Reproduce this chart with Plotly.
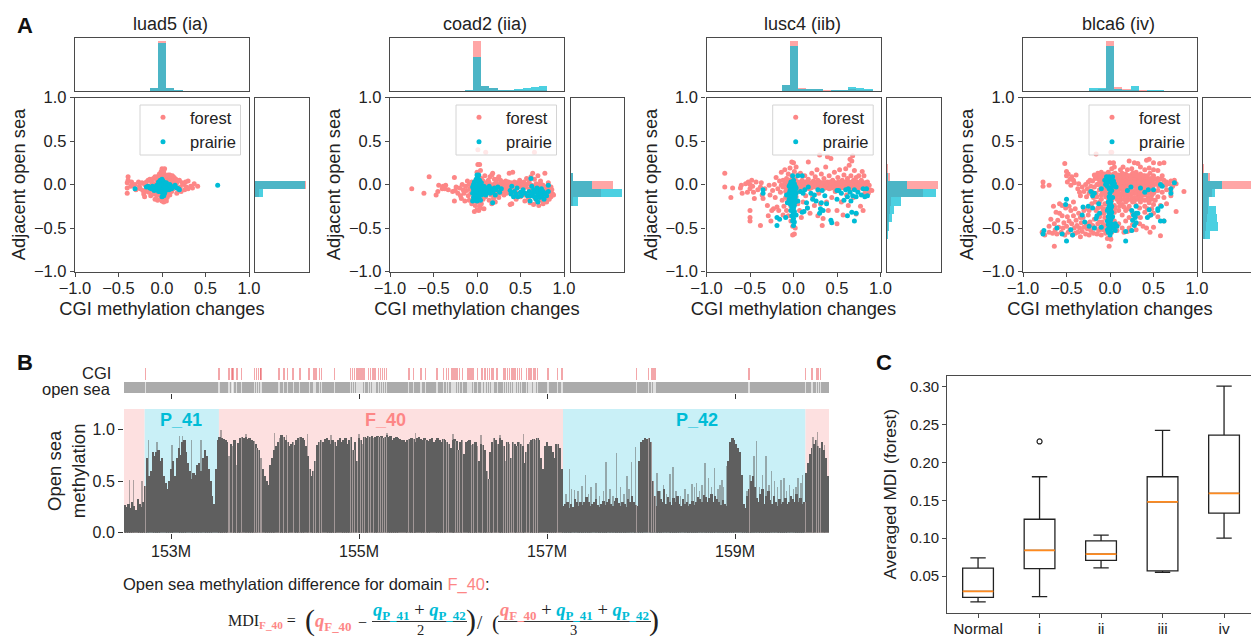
import numpy as np
import plotly.graph_objects as go

W, H = 1251, 640
FONT = "Liberation Sans"
PINK = "#fd8686"
CYAN = "#00bcd6"
FRAME = "#4a4a4a"

panel_titles = ["luad5 (ia)", "coad2 (iia)", "lusc4 (iib)", "blca6 (iv)"]

luad5_forest = [(-.39,.09),(-.39,.05),(-.4,.02),(-.4,-.04),(-.4,-.1),(-.35,.03),(-.33,-.01),(-.36,-.02),(-.31,.0),(-.3,-.06),(-.27,.03),(-.26,-.02),(-.25,-.05),(-.23,.02),(-.22,-.07),(-.21,-.11),(-.2,-.14),(-.2,.0),(-.19,-.08),(-.18,.03),(-.17,-.04),(-.16,.05),(-.15,-.09),(-.14,.06),(-.14,-.02),(-.13,-.13),(-.12,.03),(-.11,-.06),(-.1,.07),(-.1,-.11),(-.09,.01),(-.08,-.17),(-.08,.09),(-.07,-.08),(-.06,.05),(-.06,-.13),(-.05,-.18),(-.04,.1),(-.04,-.02),(-.03,.12),(-.02,-.12),(-.02,.08),(-.01,.15),(-.01,-.16),(0,.18),(0,.12),(0,-.19),(.01,.17),(.01,.1),(.01,-.14),(.02,.14),(.02,-.2),(.03,.18),(.03,.08),(.03,-.17),(.04,-.12),(.05,.1),(.05,-.19),(.06,.06),(.06,-.15),(.07,.11),(.07,-.09),(.08,.04),(.09,.11),(.09,-.12),(.1,.07),(.11,.0),(.11,-.08),(.12,.1),(.13,.04),(.13,-.05),(.14,.08),(.15,-.02),(.16,.06),(.17,-.1),(.17,.02),(.18,.04),(.19,-.04),(.2,.05),(.21,-.03),(.22,-.08),(.23,.02),(.25,.0),(.26,-.06),(.27,.03),(.28,-.03),(.3,.04),(.3,-.05),(.33,-.02),(.35,-.04),(.41,-.02),(.37,.01)]
luad5_prairie = [(-.31,-.05),(.64,-.01),(-.18,-.03),(-.16,-.02),(-.14,-.04),(-.12,-.05),(-.11,-.02),(-.09,-.07),(-.08,-.03),(-.07,-.05),(-.06,-.01),(-.05,-.06),(-.05,-.03),(-.04,.03),(-.04,-.08),(-.03,.0),(-.03,-.05),(-.02,.05),(-.02,-.02),(-.02,-.08),(-.01,.03),(-.01,-.03),(-.01,-.07),(0,.06),(0,.01),(0,-.04),(0,-.09),(0,-.14),(.01,.04),(.01,-.02),(.01,-.06),(.01,-.1),(.02,.03),(.02,-.03),(.02,-.08),(.02,-.13),(.03,.01),(.03,-.05),(.03,-.1),(.04,-.02),(.04,-.07),(.05,.02),(.05,-.04),(.06,-.06),(.07,-.01),(.07,-.04),(.08,-.06),(.09,.0),(.09,-.03),(.1,-.02),(.11,-.05),(.13,-.03),(.15,-.01),(.17,-.04),(.19,-.05),(.2,-.06)]

coad2_forest = [(-.75,-.05),(-.61,-.1),(-.55,.09),(-.47,-.12),(-.45,-.08),(-.44,-.01),(-.4,-.05),(-.39,-.02),(-.37,-.05),(-.36,-.01),(-.33,-.06),(-.28,-.08),(-.26,.08),(-.26,-.19),(-.25,-.07),(-.24,-.03),(-.22,-.1),(-.2,-.04),(-.19,-.13),(-.18,-.16),(-.17,.0),(-.16,-.06),(-.15,-.1),(-.14,-.19),(-.13,-.02),(-.12,-.07),(-.11,.04),(-.1,-.13),(-.09,.0),(-.09,-.18),(-.08,-.05),(-.07,-.1),(-.06,.03),(-.06,-.22),(-.05,-.04),(-.04,-.15),(-.03,-.31),(-.02,-.24),(-.01,.05),(0,-.29),(0,.14),(.01,-.2),(.01,.23),(.02,-.3),(.02,.1),(.03,.23),(.03,-.25),(.04,-.27),(.04,.16),(.05,-.22),(.05,.07),(.07,-.17),(.07,.04),(.08,-.28),(.09,.1),(.1,-.14),(.01,.4),(.1,.37),(.66,.37),(.11,.02),(.12,-.09),(.13,.05),(.14,-.18),(.15,-.04),(.15,.09),(.16,-.12),(.17,.11),(.17,-.22),(.18,-.02),(.18,.13),(.19,-.16),(.2,.06),(.2,-.08),(.21,.01),(.21,-.2),(.22,-.12),(.23,.06),(.23,-.05),(.24,.0),(.25,-.15),(.25,.09),(.26,-.03),(.27,.05),(.27,-.1),(.28,-.01),(.29,.03),(.3,-.08),(.31,.02),(.31,-.12),(.32,-.04),(.33,.04),(.34,-.1),(.35,.01),(.35,-.07),(.36,-.02),(.37,.13),(.38,-.05),(.38,-.23),(.39,.02),(.4,-.22),(.4,-.09),(.41,.14),(.41,.0),(.42,-.12),(.43,.03),(.44,-.06),(.45,-.17),(.46,.01),(.47,-.1),(.48,-.03),(.49,.05),(.5,-.14),(.5,-.01),(.51,.02),(.52,-.08),(.53,-.04),(.54,.03),(.55,-.12),(.55,-.19),(.56,.0),(.57,.07),(.58,-.1),(.59,-.17),(.6,.03),(.6,-.05),(.61,-.21),(.62,.09),(.62,-.12),(.63,-.01),(.64,.13),(.65,-.23),(.65,-.07),(.66,.06),(.67,-.16),(.68,.01),(.69,-.2),(.69,-.09),(.7,.1),(.71,-.24),(.71,-.03),(.72,-.13),(.73,.04),(.74,-.18),(.75,-.07),(.76,-.01),(.76,-.22),(.77,-.11),(.78,.13),(.78,-.16),(.79,-.03),(.8,-.08),(.8,-.2),(.81,-.13),(.82,.02),(.82,-.05),(.83,-.17),(.84,-.09),(.85,-.03),(.85,-.14),(.86,-.06),(.87,-.11),(.88,-.12),(.06,.0),(.08,-.03),(.1,.01),(.12,-.02),(.14,.02),(.16,-.01),(.19,.0),(.22,.02),(.25,-.02),(.28,.03),(.3,-.02),(.33,-.01),(.36,.03),(.39,-.03),(.42,.0),(.45,.02),(.48,.0),(.52,.0),(.56,-.03),(.59,.01),(.63,-.04),(.67,-.02),(.7,.0),(.74,.0),(.78,-.05),(.06,-.07),(.09,-.1),(.13,-.06),(.17,-.08),(.21,-.05),(.24,-.09)]
coad2_prairie = [(-.05,-.19),(-.05,-.1),(-.05,-.03),(-.04,-.15),(-.04,-.06),(-.04,.0),(-.03,-.18),(-.03,-.11),(-.03,-.04),(-.03,.03),(-.02,-.16),(-.02,-.08),(-.02,-.01),(-.01,-.13),(-.01,-.05),(-.01,.06),(0,-.19),(0,-.12),(0,-.07),(0,-.02),(0,.04),(0,.11),(.01,-.15),(.01,-.09),(.01,-.03),(.01,.08),(.02,-.17),(.02,-.11),(.02,-.05),(.02,.0),(.02,.11),(.03,-.13),(.03,-.07),(.03,-.01),(.03,.05),(.04,-.18),(.04,-.1),(.04,-.04),(.05,-.12),(.05,-.06),(.05,.02),(.06,-.09),(.07,-.05),(.08,-.11),(.08,-.02),(.09,-.07),(.1,-.12),(.11,-.04),(.12,-.09),(.13,-.06),(.14,-.02),(.15,-.1),(.16,-.05),(.18,-.21),(.18,-.09),(.2,-.04),(.21,-.12),(.22,-.06),(.24,-.03),(.26,-.09),(.28,-.05),(.38,-.07),(.39,-.11),(.4,-.02),(.42,-.14),(.43,-.08),(.45,-.11),(.46,-.04),(.47,-.14),(.5,-.09),(.51,-.13),(.53,-.06),(.55,-.1),(.58,-.13),(.6,-.08),(.61,-.19),(.62,.07),(.62,-.13),(.63,-.02),(.64,-.1),(.65,-.06),(.66,-.14),(.67,-.09),(.68,-.17),(.69,-.04),(.7,-.12),(.7,-.2),(.71,-.07),(.72,-.15),(.73,-.1),(.74,-.05),(.75,-.13),(.76,-.08),(.77,-.17),(.78,-.1),(.8,-.13),(.82,-.01),(.82,-.08)]

lusc4_forest = [(-.79,.13),(-.79,-.03),(-.7,-.04),(-.72,-.15),(-.61,-.04),(-.6,-.01),(-.59,-.1),(-.55,.01),(-.53,-.09),(-.52,.03),(-.5,-.05),(-.5,-.3),(-.5,-.38),(-.5,-.42),(-.5,.0),(-.48,.05),(-.47,-.02),(-.46,-.09),(-.45,-.16),(-.43,.03),(-.41,-.06),(-.38,-.47),(-.38,-.03),(-.37,.02),(-.36,-.12),(-.35,-.16),(-.33,-.05),(-.3,-.24),(-.29,-.36),(-.28,-.01),(-.27,-.12),(-.26,-.42),(-.25,-.3),(-.24,-.07),(-.23,-.28),(-.22,.0),(-.21,-.15),(-.2,.08),(-.19,-.26),(-.18,-.05),(-.17,-.3),(-.16,.04),(-.15,-.09),(-.14,.14),(-.14,-.01),(-.13,-.18),(-.12,.05),(-.12,-.35),(-.11,-.25),(-.1,.17),(-.1,.0),(-.09,-.08),(-.09,-.15),(-.08,.07),(-.08,-.3),(-.07,.0),(-.07,-.2),(-.06,.12),(-.06,-.36),(-.05,-.03),(-.05,-.11),(-.04,.19),(-.04,.05),(-.03,-.42),(-.03,-.25),(-.02,.26),(-.02,.1),(-.01,-.48),(-.01,-.58),(0,.25),(0,-.32),(0,.02),(.01,-.57),(.01,.15),(.02,-.5),(.02,.06),(.03,.2),(.03,-.14),(.04,.0),(.05,-.22),(.05,.11),(.06,.03),(.07,-.3),(.07,-.08),(.08,.13),(.09,-.38),(.09,.0),(.1,.05),(.11,-.2),(.12,-.02),(.13,.1),(.14,-.13),(.15,.03),(.16,-.27),(.17,.26),(.17,.06),(.18,-.05),(.19,-.33),(.2,.0),(.21,.13),(.22,-.14),(.23,.04),(.24,-.24),(.25,.09),(.26,-.01),(.27,.17),(.28,-.36),(.28,.05),(.29,-.1),(.3,.34),(.3,.0),(.31,-.22),(.32,.12),(.33,-.47),(.33,.02),(.34,-.39),(.35,.07),(.36,-.04),(.37,.2),(.38,-.2),(.39,.32),(.39,.03),(.4,-.3),(.41,.1),(.42,.0),(.43,.3),(.44,-.15),(.45,.05),(.46,-.02),(.47,.14),(.48,-.08),(.49,.02),(.5,-.45),(.5,-.3),(.51,.08),(.52,-.05),(.53,.17),(.54,.0),(.55,-.2),(.56,.05),(.57,-.35),(.58,.11),(.59,-.02),(.6,.18),(.6,.03),(.61,-.12),(.62,.07),(.63,-.24),(.64,.22),(.64,.0),(.65,.29),(.66,.1),(.67,.27),(.67,.02),(.68,.33),(.69,-.15),(.69,.05),(.7,.16),(.71,.0),(.72,.08),(.72,-.34),(.73,.03),(.74,-.07),(.75,.1),(.76,.0),(.77,-.25),(.78,.05),(.79,.15),(.8,-.03),(.8,-.3),(.81,.1),(.82,-.1),(.83,.02),(.84,-.05),(.85,.03),(.86,-.1),(.87,-.01),(.88,-.06),(.9,-.07),(-.12,-.03),(-.1,.02),(-.08,-.05),(-.06,.03),(-.04,-.02),(-.02,.04),(0,-.04),(.03,.03),(.05,-.03),(.07,.02),(.08,-.05),(.1,.0),(.12,-.04),(.14,.03),(.16,-.03),(.18,.02),(.2,-.04),(.22,.03),(.24,-.02),(.26,.02),(.28,-.04),(.3,.03),(.32,-.03),(.34,.01),(.36,-.04),(.38,.02),(.4,-.03),(.42,.03),(.44,-.04),(.46,.03),(.48,.0),(.5,-.03),(.52,.03),(.54,-.04),(.56,.0),(.58,-.04),(.6,.0),(.62,-.03),(.64,.03),(.66,-.03),(.68,.01),(.7,-.04),(.72,.02),(.74,-.03),(.76,.02),(.78,-.03),(.8,.02),(.82,-.04),(.84,.0),(-.05,.0),(-.03,-.06),(-.01,.01),(.01,-.02),(.02,.03),(.04,-.06),(.06,.0),(.09,-.03),(.11,.02),(.13,-.01),(.15,-.04),(.17,.01),(.19,-.02),(.21,.01),(.23,-.03),(.25,.0),(.27,-.02),(.29,.01),(.31,-.05),(.33,-.01),(.35,.02),(.37,-.02),(.39,.0),(.41,-.05),(.43,-.01),(.45,.01),(.47,-.03),(.49,-.05),(.51,.01),(.53,-.02),(.55,.02),(.57,-.02),(.59,.02),(.61,-.05),(.63,.01),(.65,-.02),(.67,-.05),(.69,.02),(.71,-.02),(.73,.0),(.75,-.04),(.77,.01),(.79,-.01)]
lusc4_prairie = [(-.35,-.06),(-.35,-.1),(-.19,-.38),(-.19,-.47),(-.16,-.4),(-.09,-.38),(-.08,-.12),(-.07,-.21),(-.05,-.02),(-.05,-.1),(-.05,-.17),(-.04,.0),(-.04,-.07),(-.04,-.14),(-.04,-.22),(-.03,.03),(-.03,-.05),(-.03,-.12),(-.03,-.2),(-.03,-.3),(-.02,.02),(-.02,-.03),(-.02,-.09),(-.02,-.16),(-.02,-.25),(-.02,-.36),(-.01,.1),(-.01,-.01),(-.01,-.06),(-.01,-.13),(-.01,-.19),(-.01,-.29),(-.01,-.42),(0,.05),(0,-.03),(0,-.08),(0,-.15),(0,-.22),(0,-.27),(0,-.33),(0,-.39),(0,-.47),(.01,.01),(.01,-.05),(.01,-.11),(.01,-.18),(.01,-.24),(.01,-.31),(.01,-.43),(.02,-.02),(.02,-.07),(.02,-.14),(.02,-.2),(.03,-.04),(.03,-.1),(.03,-.35),(.05,.1),(.1,.1),(.05,-.19),(.08,-.08),(.11,-.1),(.1,-.32),(.12,-.31),(.13,-.06),(.15,-.21),(.16,-.27),(.17,-.03),(.2,-.1),(.22,-.17),(.24,-.12),(.26,-.19),(.28,-.06),(.3,-.33),(.31,-.28),(.32,-.21),(.33,-.07),(.34,-.3),(.36,-.13),(.38,-.22),(.43,-.41),(.44,-.44),(.5,-.07),(.5,-.17),(.52,-.07),(.55,-.1),(.58,-.18),(.6,-.06),(.62,-.36),(.62,-.14),(.63,-.05),(.65,-.09),(.66,-.19),(.67,-.32),(.68,-.13),(.7,-.42),(.7,-.06),(.72,-.33),(.72,-.14),(.74,-.09),(.78,-.12),(.8,-.05),(.82,-.14),(.84,-.05),(.85,-.13)]

blca6_forest = [(-.78,-.55),(-.75,-.58),(-.7,-.48),(-.7,-.55),(-.64,-.71),(-.66,-.56),(-.64,-.45),(-.63,-.52),(-.61,-.57),(-.6,-.41),(-.59,-.49),(-.58,-.33),(-.56,-.55),(-.55,-.36),(-.54,-.5),(-.53,-.44),(-.52,-.58),(-.51,-.27),(-.5,-.48),(-.49,-.37),(-.48,-.55),(-.47,-.42),(-.46,-.52),(-.45,-.3),(-.44,-.45),(-.43,-.58),(-.42,-.36),(-.41,-.5),(-.4,-.56),(-.39,-.41),(-.38,-.47),(-.37,-.55),(-.36,-.33),(-.35,-.5),(-.34,-.6),(-.33,-.44),(-.32,-.54),(-.31,-.38),(-.3,-.49),(-.29,-.28),(-.28,-.57),(-.27,-.45),(-.26,-.51),(-.25,-.35),(-.24,-.58),(-.23,-.43),(-.22,-.53),(-.21,-.22),(-.2,-.47),(-.19,-.56),(-.18,-.4),(-.17,-.5),(-.16,-.3),(-.15,-.57),(-.14,-.45),(-.13,-.53),(-.12,-.37),(-.11,-.5),(-.1,-.58),(-.09,-.43),(-.08,-.52),(-.07,-.33),(-.06,-.47),(-.05,-.56),(-.04,-.4),(-.03,-.62),(-.02,-.5),(-.01,-.71),(0,-.61),(.01,-.63),(.02,-.55),(.03,-.47),
(-.52,.24),(-.5,.15),(-.5,.1),(-.49,.03),(-.48,.12),(-.46,.06),(-.45,-.01),(-.44,.09),(-.42,.05),(-.41,.02),(-.39,.11),(-.37,-.05),(-.36,.01),(-.35,-.09),(-.34,-.13),(-.32,-.03),(-.3,-.08),(-.28,.0),(-.27,-.14),(-.26,-.05),(-.25,.03),(-.24,-.1),(-.23,.05),(-.22,-.02),(-.21,-.08),(-.2,.04),(-.19,-.15),(-.18,-.03),(-.17,.07),(-.16,-.1),(-.15,.0),(-.77,.03),(-.77,-.02),(-.7,-.01),(-.65,-.25),(-.68,-.4),(-.62,-.32),(-.58,-.22),(-.55,-.24),(-.47,-.25),(-.42,-.2),(-.4,-.28),
(-.14,.13),(-.1,.14),(-.06,.12),(-.02,.14),(.02,.18),(.04,.25),(0,.25),(.06,.13),(.1,.11),(.14,.13),(.18,.12),(.22,.1),(.26,.13),(.3,.1),(.35,.12),(.4,.1),(.46,.13),(.5,.1),(.55,.07),(.6,.1),(-.16,.35),(.01,.37),(.02,.37),(.22,.27),(.28,.25),(.32,.24),(.42,.28),(.45,.29),(.5,.25),(.57,.24),(.62,.25),(.3,.14),(.15,.2),(.2,.17),(.25,.18),(.35,.2),(.4,.17),(.45,.19),(.5,.17),(.55,.16),(.12,.17),(.05,.2),
(-.13,.06),(-.11,.08),(-.09,.05),(-.07,.09),(-.05,.06),(-.03,.08),(-.01,.05),(.01,.09),(.03,.06),(.05,.09),(.07,.05),(.09,.08),(.11,.06),(.13,.08),(.15,.05),(.17,.07),(.19,.05),(.21,.08),(.23,.06),(.25,.04),(.27,.07),(.29,.05),(.31,.08),(.33,.05),(.35,.07),(.37,.04),(.39,.07),(.41,.05),(.43,.07),(.45,.04),(.47,.07),(.49,.05),(.52,.06),(.55,.04),(.58,.06),(.62,.05),(.65,.03),(.7,.04),(.74,.05),
(-.14,.0),(-.12,.02),(-.1,-.01),(-.08,.01),(-.06,-.02),(-.04,.02),(-.02,-.01),(0,.02),(.02,-.02),(.04,.01),(.06,-.02),(.08,.02),(.1,-.01),(.12,.01),(.14,-.02),(.16,.02),(.18,-.01),(.2,.01),(.22,-.02),(.24,.01),(.26,-.01),(.28,.01),(.3,-.02),(.32,.01),(.34,-.01),(.36,.01),(.38,-.02),(.4,.01),(.42,-.02),(.44,.0),(.46,-.02),(.48,.01),(.5,-.01),(.53,.01),(.56,-.02),(.6,.0),(.64,-.01),(.68,.01),(.72,-.02),(.76,.01),(.85,-.08),
(-.12,-.06),(-.09,-.08),(-.06,-.05),(-.03,-.07),(0,-.05),(.03,-.08),(.06,-.05),(.09,-.07),(.12,-.05),(.15,-.08),(.18,-.05),(.21,-.07),(.24,-.05),(.27,-.08),(.3,-.06),(.33,-.08),(.36,-.05),(.39,-.07),(.42,-.05),(.45,-.08),(.48,-.06),(.51,-.08),(.55,-.07),(.6,-.09),(.65,-.06),(.7,-.08),
(-.1,-.12),(-.05,-.14),(0,-.12),(.04,-.14),(.08,-.12),(.12,-.14),(.16,-.12),(.2,-.14),(.24,-.12),(.28,-.15),(.32,-.12),(.36,-.14),(.4,-.12),(.44,-.15),(.48,-.12),(.55,-.14),(.62,-.15),(.7,-.13),
(-.12,-.2),(-.06,-.22),(0,-.2),(.05,-.24),(.1,-.2),(.14,-.23),(.18,-.2),(.22,-.25),(.26,-.2),(.3,-.24),(.35,-.2),(.4,-.25),(.45,-.21),(.5,-.23),(.58,-.24),(.65,-.22),
(-.08,-.3),(.05,-.32),(.1,-.3),(.14,-.35),(.18,-.3),(.22,-.38),(.26,-.33),(.3,-.36),(.35,-.38),(.4,-.32),(.45,-.36),(.5,-.33),(.55,-.37),(.62,-.42),(.76,-.31),(.05,-.42),(.1,-.45),(.14,-.5),(.18,-.42),(.22,-.5),(.26,-.46),(.3,-.52),(.34,-.45),(.38,-.48),(.42,-.5),(.46,-.55),(.5,-.49),(.58,-.59),(.08,-.53),(.16,-.55),(.2,-.54),(.24,-.53),
(.02,.04),(.05,.04),(.08,.03),(.11,.04),(.14,.03),(.17,.03),(.2,.03),(.23,.02),(.26,.03),(.29,.02),(.07,-.03),(.1,-.04),(.13,-.03),(.16,-.04),(.19,-.03),(.22,-.04),(.25,-.03),(.06,-.1),(.1,-.1),(.14,-.1),(.18,-.1),(.22,-.1),(.26,-.1),(.3,-.1),(.08,-.17),(.12,-.18),(.16,-.17),(.2,-.18),(.24,-.17),(.28,-.19),(.32,-.17),(.06,-.27),(.11,-.25),(.16,-.26),(.21,-.28),(.34,-.27),(.43,-.28),(.48,-.28),
(.34,-.03),(.37,-.03),(.4,-.04),(.43,-.03),(.46,-.04),(.49,-.03),(.33,.03),(.36,.03),(.39,.03),(.42,.03),(.45,.02),(.48,.03),(.34,-.1),(.38,-.1),(.42,-.1),(.46,-.1),(.5,-.1),(.36,-.17),(.4,-.18),(.44,-.18),(.48,-.17),(.52,-.18),(-.16,.09),(-.18,.11),(-.12,.1),(-.08,.11),(-.04,.11),(0,.11),(.04,.12),(.08,.1),(.12,.1),(.16,.1),(.2,.1),(.24,.1),(.28,.11),(.32,.1),(.38,.1),(.43,.1),(-.07,-.1),(-.04,-.1),(-.02,-.16),(.02,-.18),(-.1,-.17),(-.15,-.14),(-.17,-.2),(-.14,-.27),(-.1,-.26),(-.06,-.28),(-.04,-.22),(-.24,-.3),(-.3,-.3),(-.34,-.38),(-.1,-.33),(-.12,-.43),(-.06,-.38),(-.08,-.46)]
blca6_prairie = [(-.76,-.53),(-.77,-.57),(-.61,-.5),(-.55,-.57),(-.5,-.17),(-.51,-.23),(-.5,-.65),(-.45,-.52),(-.43,-.58),(-.31,-.26),(-.32,-.35),(-.29,-.43),(-.25,-.25),(-.24,-.48),(-.22,-.08),(-.2,-.27),(-.2,-.13),(-.18,-.1),(-.18,-.5),(-.16,-.39),(-.15,-.36),(-.13,-.22),(-.12,-.33),(-.1,-.49),(-.1,-.05),(-.06,.05),(-.05,.0),(-.04,.09),(-.04,.02),(-.03,-.02),(-.02,.06),(-.01,.09),(-.01,-.05),(-.03,-.3),(-.03,-.42),(-.03,-.52),(-.02,-.2),(-.02,-.28),(-.02,-.37),(-.02,-.46),(-.02,-.55),(-.01,-.14),(-.01,-.25),(-.01,-.33),(-.01,-.41),(-.01,-.5),(0,.03),(0,-.1),(0,-.17),(0,-.23),(0,-.3),(0,-.36),(0,-.44),(0,-.51),(0,-.58),(.01,.07),(.01,-.04),(.01,-.2),(.01,-.28),(.01,-.34),(.01,-.4),(.01,-.47),(.01,-.55),(.02,.02),(.02,-.07),(.02,-.25),(.02,-.32),(.02,-.45),(.03,.09),(.03,-.02),(.03,-.15),(.03,-.37),(.04,.04),(.04,-.5),(.05,.01),(.06,-.45),(.06,-.53),(.07,-.03),(.08,-.48),(.18,-.65),(.18,-.54),(.2,-.07),(.24,-.03),(.25,-.53),(.25,-.3),(.26,-.41),(.27,-.35),(.28,-.47),(.29,-.38),(.3,-.25),(.3,-.33),(.3,-.44),(.32,-.33),(.35,-.04),(.4,-.09),(.43,-.38),(.45,-.29),(.47,-.35),(.5,-.06),(.55,-.3),(.58,-.42),(.6,-.02),(.59,-.25),(.62,-.42),(.58,.0),(.7,-.05),(.7,-.1),(.74,.02),(.44,-.06),(.55,-.28)]

# histogram bin centres (21 equal bins on -1..1) and bar heights as a share of the frame height
bin_centers = [-.952,-.857,-.762,-.667,-.571,-.476,-.381,-.286,-.19,-.095,0,.095,.19,.286,.381,.476,.571,.667,.762,.857,.952]
bin_width = 0.0952

luad5_top_f = [0,0,0,0,0,0,.003,.005,.01,.06,.95,.06,.02,.005,.002,0,0,0,0,0,0]
luad5_top_p = [0,0,0,0,0,0,0,.002,.005,.06,.905,.06,.022,.002,0,0,0,.004,0,0,0]
luad5_side_f = [0,0,0,0,0,0,0,0,0,.08,.95,.003,0,0,0,0,0,0,0,0,0]
luad5_side_p = [0,0,0,0,0,0,0,0,.002,.145,.94,.002,0,0,0,0,0,0,0,0,0]

coad2_top_f = [0,0,0,0,0,0,0,.002,.005,.03,.95,.1,.06,.03,.025,.03,.035,.03,.03,.01,0]
coad2_top_p = [0,0,0,0,0,0,0,0,.002,.02,.65,.1,.07,.035,.03,.045,.07,.08,.105,.01,0]
coad2_side_f = [0,0,0,0,0,0,0,0,.03,.56,.78,.03,.005,.003,0,0,0,0,0,0,0]
coad2_side_p = [0,0,0,0,0,0,0,0,.14,.95,.4,.03,.002,0,0,0,0,0,0,0,0]

lusc4_top_f = [0,0,0,.002,.003,.004,.006,.008,.015,.12,.95,.07,.045,.04,.02,.02,.025,.04,.03,.02,0]
lusc4_top_p = [0,0,0,0,0,0,.006,.006,.01,.12,.845,.05,.04,.045,.015,.025,.03,.085,.06,.045,0]
lusc4_side_f = [0,0,0,0,.005,.02,.035,.05,.08,.68,.95,.06,.01,.003,0,0,0,0,0,0,0]
lusc4_side_p = [0,0,0,0,.01,.04,.1,.13,.255,.907,.38,.015,.003,0,0,0,0,0,0,0,0]

blca6_top_f = [0,0,.002,.003,.003,.008,.006,.012,.03,.05,.95,.09,.04,.02,.03,.012,.012,.004,.002,0,0]
blca6_top_p = [0,0,0,.002,.004,.015,.01,.015,.07,.06,.845,.055,.02,.105,.01,.025,.03,.004,0,0,0]
blca6_side_f = [0,0,0,.002,.03,.06,.07,.1,.1,.17,.95,.135,.01,.003,0,0,0,0,0,0,0]
blca6_side_p = [0,0,0,.004,.125,.28,.255,.25,.12,.22,.36,.085,.005,0,0,0,0,0,0,0,0]

# Panel B
cgi_positions = [152.73,153.51,153.61,153.62,153.65,153.66,153.70,153.75,153.89,153.91,153.93,153.95,153.96,154.15,154.20,154.24,154.30,154.37,154.47,154.52,154.54,154.58,154.60,154.74,154.91,154.93,154.95,154.98,155.00,155.02,155.04,155.06,155.10,155.12,155.15,155.17,155.21,155.23,155.25,155.27,155.29,155.53,155.58,155.66,155.71,155.83,155.90,155.93,155.95,155.99,156.01,156.03,156.05,156.07,156.10,156.16,156.18,156.20,156.22,156.26,156.31,156.34,156.365,156.39,156.415,156.43,156.47,156.535,156.555,156.58,156.60,156.62,156.64,156.66,156.685,156.705,156.73,156.78,156.81,156.83,156.86,156.88,156.90,157.01,157.11,157.16,157.95,158.08,158.11,158.13,158.15,159.15,159.75,159.82,159.87,159.89,159.91]

domain_edges = [152.5, 152.72, 153.51, 157.17, 159.75, 160.0]
domain_kinds = ["F", "P", "F", "P", "F"]
domain_labels = [(153.11, "P_41", CYAN), (155.28, "F_40", PINK), (158.6, "P_42", CYAN)]

meth_left = [.27,.25,.28,.24,.3,.26,.22,.33,.28,.25,.3]
meth_p41 = [.45,.72,.55,.6,.78,.74,.78,.8,.7,.72,.55,.48,.42,.5,.62,.7,.55,.72,.82,.75,.88,.9,.78,.68,.6,.52,.58,.56,.66,.68,.6,.72,.8,.74,.62,.5,.36,.28,.62,.9]
meth_f40 = [.93,.92,.91,.9,.88,.74,.86,.84,.9,.66,.87,.92,.93,.92,.93,.91,.92,.9,.89,.86,
.82,.8,.72,.62,.55,.5,.46,.66,.72,.8,.84,.88,.92,.95,.93,.9,.88,.84,.86,.88,
.85,.9,.92,.93,.92,.9,.84,.74,.62,.55,.6,.7,.85,.88,.9,.88,.91,.92,.9,.86,
.9,.88,.84,.9,.92,.88,.9,.92,.86,.9,.93,.8,.88,.7,.92,.9,.86,.93,.92,.94,
.93,.94,.92,.93,.94,.93,.94,.92,.93,.95,.93,.94,.9,.92,.93,.92,.91,.9,.9,.88,
.9,.91,.92,.91,.88,.92,.93,.91,.9,.92,.9,.89,.91,.92,.88,.9,.92,.9,.88,.91,
.9,.88,.86,.82,.9,.91,.89,.8,.88,.9,.76,.88,.89,.9,.85,.86,.88,.84,.7,.86,
.85,.8,.6,.52,.78,.88,.92,.9,.86,.92,.9,.84,.7,.88,.86,.72,.88,.86,.84,.88,
.86,.84,.68,.78,.86,.88,.9,.91,.9,.92,.9,.72,.62,.84,.88,.84,.84,.78,.72,.86,.86,.82,.62]
meth_p42 = [.26,.28,.3,.24,.28,.25,.33,.3,.26,.3,.27,.3,.35,.3,.26,.28,.3,.33,.27,.25,
.28,.31,.27,.3,.33,.28,.26,.31,.34,.29,.26,.3,.28,.25,.33,.3,.36,.3,.27,.26,
.7,.88,.9,.92,.91,.92,.88,.5,.36,.26,.4,.33,.3,.42,.28,.35,
.3,.27,.34,.3,.36,.28,.26,.33,.28,.3,.26,.28,.31,.27,.3,.35,.33,.3,.37,.35,
.3,.34,.38,.3,.36,.33,.3,.27,.32,.28,.26,.7,.88,.92,.9,.86,.82,.78,.56,.28,
.24,.36,.42,.5,.55,.44,.34,.3,.38,.42,.28,.36,.4,.32,.28,.36,.3,.26,.33,.28,.3,.34,.28,.3,.36,.33,.3,.38,.3,.34,.28,.3]
meth_right = [.58,.68,.76,.82,.86,.9,.84,.82,.88,.8,.72,.55]
spike_pos = [152.56,152.60,152.69,152.76,152.85,153.01,153.09,153.12,153.22,153.32,153.53,153.8,154.1,154.23,154.45,154.7,155.0,155.3,155.6,156.0,156.3,156.5,156.75,157.24,157.29,157.41,157.52,157.63,157.74,157.85,157.90,157.94,158.10,158.17,158.31,158.34,158.54,158.59,158.68,158.72,158.78,158.86,158.91,159.16,159.20,159.23,159.33,159.39,159.49,159.52,159.67,159.72,159.83,159.88,159.95,
157.2,157.26,157.33,157.37,157.44,157.47,157.56,157.6,157.67,157.7,157.78,157.82,157.87,158.13,158.2,158.24,158.27,158.37,158.42,158.47,158.5,158.57,158.62,158.65,158.75,158.82,158.84,158.88,159.13,159.18,159.26,159.29,159.36,159.42,159.45,159.55,159.58,159.62,159.65,159.7]
spike_val = [.51,.51,.5,.9,.88,.85,.94,.94,.9,.9,1.0,.96,.97,.95,.96,.95,.96,.97,.97,.96,.95,.95,.96,.62,.41,.56,.48,.69,.77,.55,.69,.83,.53,.58,.57,.64,.47,.48,.68,.53,.63,.51,.65,.56,.74,.89,.74,.6,.51,.53,.53,.56,.93,.98,.85,
.38,.42,.4,.45,.38,.44,.36,.4,.42,.36,.44,.38,.42,.44,.4,.46,.38,.4,.36,.42,.38,.44,.4,.46,.44,.42,.46,.44,.4,.5,.44,.56,.46,.5,.44,.4,.46,.42,.44,.48]

# Panel C
stages = ["Normal", "i", "ii", "iii", "iv"]
stage_pos = [1, 2, 3, 4, 5]
box_low = [.016, .023, .061, .055, .100]
box_q1 = [.022, .060, .0707, .057, .133]
box_med = [.030, .084, .079, .148, .159]
box_q3 = [.0605, .125, .0966, .181, .236]
box_high = [.074, .181, .104, .242, .3004]
outlier_stage = [2]
outlier_val = [.2275]

fig = go.Figure()
layout = {}
counter = [0]


def px(x):
    return x / W


def py(y):
    return 1 - y / H


def axes(x0, x1, ytop, ybot, xopts, yopts):
    counter[0] += 1
    n = counter[0]
    s = "" if n == 1 else str(n)
    layout["xaxis" + s] = dict(domain=[px(x0), min(px(x1), 1)], anchor="y" + s, automargin=False, **xopts)
    layout["yaxis" + s] = dict(domain=[py(ybot), py(ytop)], anchor="x" + s, automargin=False, **yopts)
    return "x" + s, "y" + s


FR = dict(showline=True, mirror=True, linecolor=FRAME, linewidth=1.4, showgrid=False, zeroline=False)
NOTICK = dict(showticklabels=False, ticks="")

main_left = [75, 390, 706.5, 1023]
side_left = [255, 570.5, 887, 1203]
legend_left = [140, 456, 772.7, 1089]
title_x = [170, 485, 802, 1118]
forest_sets = [luad5_forest, coad2_forest, lusc4_forest, blca6_forest]
prairie_sets = [luad5_prairie, coad2_prairie, lusc4_prairie, blca6_prairie]
top_f = [luad5_top_f, coad2_top_f, lusc4_top_f, blca6_top_f]
top_p = [luad5_top_p, coad2_top_p, lusc4_top_p, blca6_top_p]
side_f = [luad5_side_f, coad2_side_f, lusc4_side_f, blca6_side_f]
side_p = [luad5_side_p, coad2_side_p, lusc4_side_p, blca6_side_p]
HF = "rgba(255,128,128,0.7)"
HP = "rgba(0,188,212,0.7)"
TICKS = dict(ticks="outside", ticklen=4, tickwidth=1.2, tickcolor=FRAME,
             tickvals=[-1, -.5, 0, .5, 1], tickformat=".1f", tickfont=dict(size=16.5, color="#222"))

annotations = []
shapes = []


def label(x, y, text, size=16, color="#222", anchor="center", family=FONT, angle=0):
    annotations.append(dict(x=px(x), y=py(y), xref="paper", yref="paper", text=text, showarrow=False,
                            xanchor=anchor, yanchor="middle", textangle=angle, align="center",
                            font=dict(size=size, color=color, family=family)))


for i in range(4):
    L = main_left[i]
    lg = "legend" if i == 0 else f"legend{i+1}"
    xa, ya = axes(L, L + 174, 97.5, 271.5,
                  dict(range=[-1, 1], ticklabelstandoff=-3,
                       title=dict(text="CGI methylation changes", font=dict(size=18.3, color="#222"), standoff=6), **TICKS, **FR),
                  dict(range=[-1, 1], title=dict(text="Adjacent open sea", font=dict(size=18.3, color="#222"), standoff=3), **TICKS, **FR))
    fx, fy = zip(*forest_sets[i])
    ppx, ppy = zip(*prairie_sets[i])
    fig.add_trace(go.Scatter(x=fx, y=fy, mode="markers", name="forest", xaxis=xa, yaxis=ya, legend=lg,
                             marker=dict(size=5, color=PINK, line=dict(width=0))))
    fig.add_trace(go.Scatter(x=ppx, y=ppy, mode="markers", name="prairie", xaxis=xa, yaxis=ya, legend=lg,
                             marker=dict(size=5, color=CYAN, line=dict(width=0))))
    shapes.append(dict(type="rect", xref="paper", yref="paper", x0=px(legend_left[i]), x1=px(legend_left[i] + 100.5),
                       y0=py(155), y1=py(105), layer="above", fillcolor="rgba(255,255,255,0.8)",
                       line=dict(color="#d4d4d4", width=1)))
    layout[lg] = dict(x=px(legend_left[i] - 4), y=py(100), xanchor="left", yanchor="top",
                      bgcolor="rgba(0,0,0,0)", borderwidth=0,
                      font=dict(size=16.5, color="#222", family=FONT), itemwidth=44,
                      entrywidth=50, entrywidthmode="pixels", tracegroupgap=0)
    # top histogram
    xa, ya = axes(L, L + 174, 37.5, 91, dict(range=[-1, 1], **NOTICK, **FR), dict(range=[0, 1], **NOTICK, **FR))
    for vals, col in ((top_f[i], HF), (top_p[i], HP)):
        fig.add_trace(go.Bar(x=bin_centers, y=vals, width=bin_width, xaxis=xa, yaxis=ya, showlegend=False,
                             marker=dict(color=col, line=dict(width=0))))
    # side histogram
    S = side_left[i]
    right = S + 53.5
    xr = [0, 1] if right <= W else [0, (W - S) / 53.5]
    yo = dict(FR)
    if right > W:
        yo["mirror"] = False
    xa, ya = axes(S, min(right, W), 97.5, 271.5, dict(range=xr, **NOTICK, **FR), dict(range=[-1, 1], **NOTICK, **yo))
    for vals, col in ((side_f[i], HF), (side_p[i], HP)):
        fig.add_trace(go.Bar(y=bin_centers, x=vals, width=bin_width, orientation="h", xaxis=xa, yaxis=ya, showlegend=False,
                             marker=dict(color=col, line=dict(width=0))))
    label(title_x[i], 24, panel_titles[i], size=18)

# Panel B tracks
B_RANGE = [152.5, 160.0]
b_ticks = [153, 155, 157, 159]
xa, ya = axes(124, 829, 368, 380, dict(range=B_RANGE, showgrid=False, zeroline=False, showticklabels=False, ticks=""),
              dict(range=[0, 1], showgrid=False, zeroline=False, showticklabels=False, ticks=""))
fig.add_trace(go.Bar(x=cgi_positions, y=[1] * len(cgi_positions), width=0.016, xaxis=xa, yaxis=ya, showlegend=False,
                     marker=dict(color="rgba(232,80,85,0.5)", line=dict(width=0))))
xa, ya = axes(124, 829, 382, 393, dict(range=B_RANGE, showgrid=False, zeroline=False, showticklabels=False, ticks="outside",
                                      ticklen=5, tickwidth=1.2, tickcolor="#333", tickvals=b_ticks),
              dict(range=[0, 1], showgrid=False, zeroline=False, showticklabels=False, ticks=""))
fig.add_trace(go.Bar(x=[sum(B_RANGE) / 2], y=[1], width=B_RANGE[1] - B_RANGE[0], xaxis=xa, yaxis=ya, showlegend=False,
                     marker=dict(color="#ababab", line=dict(width=0))))
fig.add_trace(go.Bar(x=cgi_positions, y=[1] * len(cgi_positions), width=0.014, xaxis=xa, yaxis=ya, showlegend=False,
                     marker=dict(color="rgba(255,255,255,0.62)", line=dict(width=0))))

# Panel B main
xa, ya = axes(124, 829, 409, 532.7,
              dict(range=B_RANGE, showgrid=False, zeroline=False, ticks="outside", ticklen=5, tickwidth=1.2, tickcolor="#333",
                   ticklabelstandoff=-1, tickvals=b_ticks, ticktext=[f"{t}M" for t in b_ticks], tickfont=dict(size=16, color="#222")),
              dict(range=[0, 1.2], showgrid=False, zeroline=False, ticks="outside", ticklen=5, tickwidth=1.2, tickcolor="#333",
                   tickvals=[0, .5, 1], tickformat=".1f", tickfont=dict(size=16, color="#222"),
                   title=dict(text="Open sea<br>methylation", font=dict(size=18.5, color="#222"), standoff=2)))
for k, kind in enumerate(domain_kinds):
    shapes.append(dict(type="rect", xref=xa, yref=ya, x0=domain_edges[k], x1=domain_edges[k + 1], y0=0, y1=1.2,
                       layer="below", line=dict(width=0), fillcolor="#fde0e0" if kind == "F" else "#c9f0f7"))
segments = [meth_left, meth_p41, meth_f40, meth_p42, meth_right]
bar_x, bar_y = [], []
for k, seg in enumerate(segments):
    step = (domain_edges[k + 1] - domain_edges[k]) / len(seg)
    bar_x += [domain_edges[k] + (j + .5) * step for j in range(len(seg))]
    bar_y += seg
fig.add_trace(go.Bar(x=spike_pos, y=spike_val, width=0.016, xaxis=xa, yaxis=ya, showlegend=False,
                     marker=dict(color="rgba(96,96,96,0.5)", line=dict(width=0))))
fig.add_trace(go.Bar(x=bar_x, y=bar_y, width=0.021, xaxis=xa, yaxis=ya, showlegend=False,
                     marker=dict(color="#5f5f5f", line=dict(width=0))))
bar_arr = np.array(bar_x)
gap_y = [bar_y[int(np.argmin(np.abs(bar_arr - c)))] for c in cgi_positions]
fig.add_trace(go.Bar(x=cgi_positions, y=gap_y, width=0.009, xaxis=xa, yaxis=ya, showlegend=False,
                     marker=dict(color="rgba(255,232,232,0.42)", line=dict(width=0))))
for pos, txt, col in domain_labels:
    annotations.append(dict(x=pos, y=1.09, xref=xa, yref=ya, text=f"<b>{txt}</b>", showarrow=False,
                            font=dict(size=18, color=col, family=FONT)))
label(113, 372.5, "CGI", size=16.5, anchor="right")
label(113, 389, "open sea", size=16.5, anchor="right")

# Panel C
xa, ya = axes(947.3, W, 375.7, 612.7,
              dict(range=[.5, .5 + (W - 947.3) / 61.5], tickvals=stage_pos, ticktext=stages, ticks="outside", ticklen=4, tickwidth=1.2, tickcolor=FRAME,
                   ticklabelstandoff=-2, tickfont=dict(size=15.4, color="#222"), **FR),
              dict(range=[.0018, .3142], tickvals=[.05, .1, .15, .2, .25, .3], tickformat=".2f", ticks="outside", ticklen=4, tickwidth=1.2, tickcolor=FRAME,
                   tickfont=dict(size=15, color="#222"),
                   title=dict(text="Averaged MDI (forest)", font=dict(size=17.4, color="#222"), standoff=8),
                   **{**FR, "mirror": False}))
fig.add_trace(go.Box(x=stage_pos, q1=box_q1, median=box_med, q3=box_q3, lowerfence=box_low, upperfence=box_high,
                     width=.5, whiskerwidth=.5, xaxis=xa, yaxis=ya, showlegend=False, boxpoints=False,
                     fillcolor="rgba(0,0,0,0)", line=dict(color="#222", width=1.3)))
med_x, med_y = [], []
for p, m in zip(stage_pos, box_med):
    med_x += [p - .25, p + .25, None]
    med_y += [m, m, None]
fig.add_trace(go.Scatter(x=med_x, y=med_y, mode="lines", xaxis=xa, yaxis=ya, showlegend=False,
                         line=dict(color="#ff8a1e", width=1.7)))
fig.add_trace(go.Scatter(x=outlier_stage, y=outlier_val, mode="markers", xaxis=xa, yaxis=ya, showlegend=False,
                         marker=dict(symbol="circle-open", size=5, color="#222", line=dict(width=1.2))))

# Panel letters
label(25, 25, "<b>A</b>", size=22, color="#111")
label(25, 362, "<b>B</b>", size=22, color="#111")
label(884, 362, "<b>C</b>", size=22, color="#111")

# Formula text
P = f'color:{PINK}'
C = f'color:{CYAN}'
SER = "Liberation Serif"
label(121, 584, f'Open sea methylation difference for domain <span style="{P}">F_40</span>:', size=16.5, anchor="left")
qF = f'<span style="{P}"><b><i>q</i><sub>F_40</sub></b></span>'
q41 = f'<span style="{C}"><b><i>q</i><sub>P_41</sub></b></span>'
q42 = f'<span style="{C}"><b><i>q</i><sub>P_42</sub></b></span>'
label(226, 621, f'MDI<sub><span style="{P}"><b>F_40</b></span></sub> =', size=16, anchor="left", family=SER)
label(310, 620, "(", size=30, family=SER)
label(313, 622, qF, size=18.5, anchor="left", family=SER)
label(362, 622, "−", size=16, family=SER)
label(419.5, 611, f'{q41} + {q42}', size=18.5, family=SER)
label(420, 629.5, "2", size=14.5, family=SER)
label(471, 620, ")", size=30, family=SER)
label(480, 622, "/", size=19, family=SER)
label(495, 622, "(", size=22, family=SER)
label(574.5, 611, f'{qF} + {q41} + {q42}', size=18.5, family=SER)
label(573, 629.5, "3", size=14.5, family=SER)
label(654, 620, ")", size=30, family=SER)
for a, b in ((372, 467), (498, 651)):
    shapes.append(dict(type="line", xref="paper", yref="paper", x0=px(a), x1=px(b), y0=py(621.5), y1=py(621.5),
                       line=dict(color="#333", width=1)))

layout.update(width=W, height=H, autosize=False, margin=dict(l=0, r=0, t=0, b=0), paper_bgcolor="white",
              plot_bgcolor="rgba(0,0,0,0)", barmode="overlay", bargap=0, boxmode="overlay", template="none",
              font=dict(family=FONT, color="#222"), annotations=annotations, shapes=shapes, showlegend=True)
fig.update_layout(**layout)
fig.write_html("out.html", config=dict(displayModeBar=False),
               post_script="document.body.style.margin='0';document.body.style.overflow='hidden';")
